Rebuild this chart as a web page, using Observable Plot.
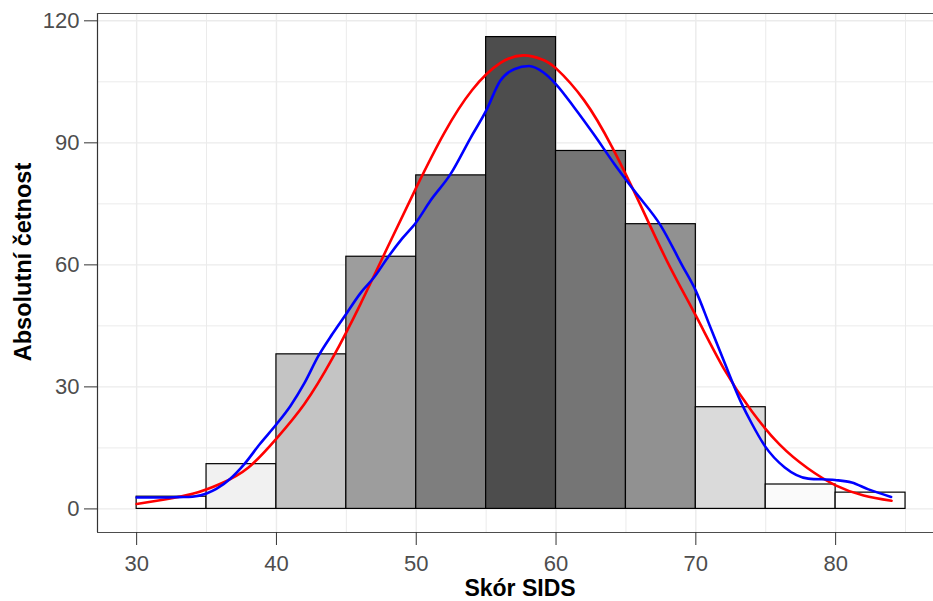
<!DOCTYPE html>
<html>
<head>
<meta charset="utf-8">
<script src="https://cdn.jsdelivr.net/npm/d3@7"></script>
<script src="https://cdn.jsdelivr.net/npm/@observablehq/plot@0.6"></script>
<style>
  html, body { margin: 0; padding: 0; background: #fff; }
  #chart svg { display: block; font-family: "Liberation Sans", Arial, Helvetica, sans-serif; }
</style>
</head>
<body>
<div id="chart"></div>
<script>
// Histogram bins (Skór SIDS), width 5
const binStart = [30, 35, 40, 45, 50, 55, 60, 65, 70, 75, 80];
const binEnd   = [35, 40, 45, 50, 55, 60, 65, 70, 75, 80, 85];
const counts   = [3, 11, 38, 62, 82, 116, 88, 70, 25, 6, 4];

// Red curve (normal fit, scaled to counts)
const redX = [30, 32, 34, 36, 38, 40, 42, 44, 46, 48, 50, 52, 54, 56, 57.7, 59, 60, 62, 64, 66, 68, 70, 72, 74, 76, 78, 80, 82, 84];
const redY = [1.2, 2.3, 3.7, 6.2, 10.2, 17.3, 25.8, 37.0, 50.3, 64.7, 79.0, 92.4, 103.0, 109.6, 111.5, 110.5, 108.3, 100.5, 89.0, 75.0, 60.5, 47.5, 34.5, 24.0, 15.8, 10.0, 5.8, 3.3, 2.0];

// Blue curve (kernel density, scaled to counts)
const blueX = [30, 31, 32, 33, 34, 35, 35.7, 36.7, 37.7, 38.8, 40, 41, 42, 43, 44, 45, 46, 47, 48, 49, 50, 51, 52.45, 53.9, 55, 56, 57, 58.07, 59.1, 60, 61.3, 62.7, 64.17, 65.6, 67.5, 69, 70, 71, 72, 73.26, 74, 74.93, 76.36, 78.04, 79.95, 81.15, 82.35, 83.97];
const blueY = [2.8, 2.8, 2.8, 2.9, 3.0, 3.8, 4.9, 7.4, 11.0, 15.9, 20.8, 25.3, 30.9, 37.6, 43.0, 48.0, 53.0, 57.0, 62.0, 66.5, 70.5, 75.7, 82.3, 91.3, 97.9, 105.2, 108.1, 108.9, 107.3, 104.4, 98.7, 92.1, 84.8, 78.2, 69.6, 60.0, 53.6, 45.0, 36.4, 26.0, 21.0, 15.5, 10.2, 7.45, 7.1, 6.5, 4.8, 2.95];

const xTicks = [30, 40, 50, 60, 70, 80];
const xMinor = [35, 45, 55, 65, 75, 85];
const yTicks = [0, 30, 60, 90, 120];
const yMinor = [15, 45, 75, 105];

const xTitle = "Skór SIDS";
const yTitle = "Absolutní četnost";

const xDomain = [27.2, 87.0];
const yDomain = [-5.8, 121.8];

const bins = binStart.map((s, i) => ({x1: s, x2: binEnd[i], count: counts[i]}));
const red = redX.map((x, i) => ({x, y: redY[i]}));
const blue = blueX.map((x, i) => ({x, y: blueY[i]}));

const grid = "#ebebeb";
const font = "\"Liberation Sans\", Arial, Helvetica, sans-serif";

const chart = Plot.plot({
  width: 933,
  height: 601,
  marginLeft: 97,
  marginRight: 0,
  marginTop: 13,
  marginBottom: 69,
  style: {fontFamily: font, background: "#fff", overflow: "visible"},
  x: {domain: xDomain, label: null},
  y: {domain: yDomain, label: null},
  color: {type: "linear", domain: [3, 116], range: ["#ffffff", "#4d4d4d"], interpolate: "lab"},
  marks: [
    Plot.ruleX(xMinor, {stroke: grid, strokeWidth: 1}),
    Plot.ruleY(yMinor, {stroke: grid, strokeWidth: 1}),
    Plot.ruleX(xTicks, {stroke: grid, strokeWidth: 1.4}),
    Plot.ruleY(yTicks, {stroke: grid, strokeWidth: 1.4}),
    Plot.rect(bins, {x1: "x1", x2: "x2", y1: 0, y2: "count", fill: "count", stroke: "black", strokeWidth: 1.2}),
    Plot.line(red, {x: "x", y: "y", stroke: "#ff0000", strokeWidth: 2.6, curve: "natural"}),
    Plot.line(blue, {x: "x", y: "y", stroke: "#0000ff", strokeWidth: 2.6, curve: "monotone-x"}),
    Plot.ruleX([xDomain[0]], {stroke: "#333333", strokeWidth: 1.2}),
    Plot.ruleY([yDomain[0], yDomain[1]], {stroke: "#4d4d4d", strokeWidth: 1.2}),
    Plot.axisX({ticks: xTicks, tickSize: 13, tickPadding: 10, fontSize: 22, stroke: "#333333", fill: "#4d4d4d", label: null, tickFormat: d => String(d)}),
    Plot.axisY({ticks: yTicks, tickSize: 13, tickPadding: 5, fontSize: 22, stroke: "#333333", fill: "#4d4d4d", label: null, tickFormat: d => String(d)}),
    Plot.text([xTitle], {frameAnchor: "bottom", textAnchor: "middle", lineAnchor: "middle", dx: 4.5, dy: 56, fontSize: 23, fontWeight: "bold", fill: "black"}),
    Plot.text([yTitle], {frameAnchor: "left", textAnchor: "middle", lineAnchor: "middle", dx: -74, dy: -11, rotate: -90, fontSize: 23.5, fontWeight: "bold", fill: "black"})
  ]
});

document.getElementById("chart").appendChild(chart);
</script>
</body>
</html>
